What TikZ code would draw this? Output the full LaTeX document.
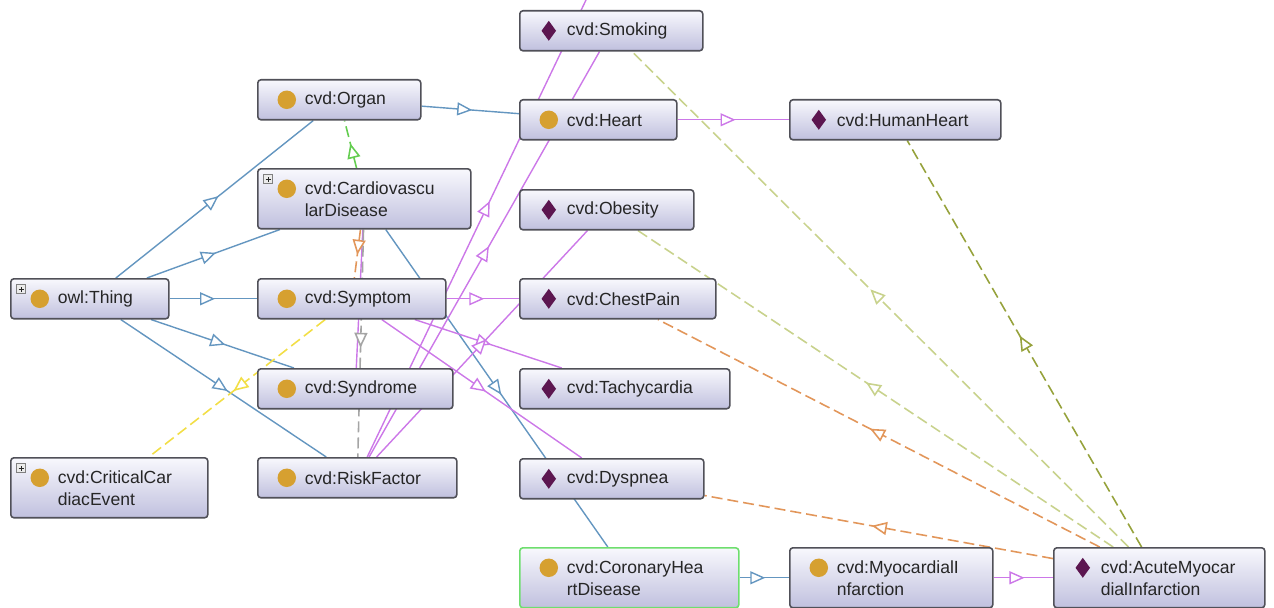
\documentclass[tikz,border=0pt]{standalone}
\usepackage{fontspec}
\setmainfont{Liberation Sans}
\usetikzlibrary{arrows.meta,decorations.markings,backgrounds}

\definecolor{boxline}{RGB}{80,80,88}
\definecolor{boxtop}{RGB}{248,248,253}
\definecolor{boxbot}{RGB}{192,192,222}
\definecolor{gold}{RGB}{214,160,48}
\definecolor{plum}{RGB}{92,22,80}
\definecolor{isablue}{RGB}{100,150,192}
\definecolor{typeviolet}{RGB}{204,120,232}
\definecolor{propgreen}{RGB}{100,205,80}
\definecolor{propyellow}{RGB}{242,222,70}
\definecolor{proporange}{RGB}{226,150,90}
\definecolor{propgrey}{RGB}{165,165,165}
\definecolor{propolive}{RGB}{200,210,140}
\definecolor{propdark}{RGB}{150,162,60}
\definecolor{chdgreen}{RGB}{110,222,110}

\newcommand{\clsicon}{\fill[gold] ([xshift=0.58cm,yshift=-0.4cm]path picture bounding box.north west) circle (0.185cm);}
\newcommand{\indicon}{\fill[plum, sharp corners] ([xshift=0.58cm,yshift=-0.4cm]path picture bounding box.north west) +(0,0.2cm) -- +(0.145cm,0) -- +(0,-0.2cm) -- +(-0.145cm,0) -- cycle;}
\newcommand{\plusicon}{%
  \path ([xshift=0.21cm,yshift=-0.21cm]path picture bounding box.north west) coordinate (pc);
  \draw[gray,fill=black!8,line width=0.4pt,sharp corners] (pc) +(-0.09cm,-0.09cm) rectangle +(0.09cm,0.09cm);
  \draw[black!85,line width=0.6pt,sharp corners] (pc) +(-0.055cm,0) -- +(0.055cm,0) (pc) +(0,-0.055cm) -- +(0,0.055cm);}

\tikzset{
  box/.style={rectangle, rounded corners=1.8pt, draw=boxline, line width=0.9pt,
    top color=boxtop, bottom color=boxbot, anchor=north west, align=left,
    inner sep=0pt, minimum height=0.8cm, font=\fontsize{10}{12.5}\selectfont, text=black!85},
  wd/.code={\pgfmathsetmacro\boxw{#1*0.02}\pgfmathsetmacro\txtw{(#1-94)*0.02}%
    \pgfkeysalso{/tikz/minimum width/.expanded=\boxw cm,/tikz/text width/.expanded=\txtw cm}},
  tall/.style={minimum height=1.2cm},
  cls/.style={box, path picture={\clsicon}},
  clsplus/.style={box, path picture={\clsicon\plusicon}},
  ind/.style={box, path picture={\indicon}},
  tri/.style={postaction={decorate, decoration={markings,
    mark=at position #1 with {\arrow{Triangle[length=0.3cm, width=0.26cm, fill=white]}}}}},
  isa/.style={draw=isablue, line width=0.8pt, tri=0.52},
  type/.style={draw=typeviolet, line width=0.8pt, tri=#1},
  type/.default=0.52,
  prop/.style={draw=#1, line width=0.9pt, dash pattern=on 0.22cm off 0.1cm, tri=0.52},
}

\begin{document}
\begin{tikzpicture}[x=0.02cm, y=-0.02cm]

      \useasboundingbox (0,0) rectangle (1274,608);

      \begin{scope}
        \node[clsplus, wd=158] (thing)             at (10,278)   {owl:Thing};
        \node[clsplus, wd=197, tall] (cce)         at (10,457)   {cvd:CriticalCar\\diacEvent};
        \node[cls, wd=163] (organ)                 at (257,79)   {cvd:Organ};
        \node[clsplus, wd=213, tall] (cvd)         at (257,168)  {cvd:Cardiovascu\\larDisease};
        \node[cls, wd=188] (symptom)               at (257,278)  {cvd:Symptom};
        \node[cls, wd=195] (syndrome)              at (257,368)  {cvd:Syndrome};
        \node[cls, wd=199] (riskfactor)            at (257,457)  {cvd:RiskFactor};
        \node[ind, wd=183] (smoking)               at (519,10)   {cvd:Smoking};
        \node[cls, wd=157] (heart)                 at (519,99)   {cvd:Heart};
        \node[ind, wd=211] (humanheart)            at (789,99)   {cvd:HumanHeart};
        \node[ind, wd=174] (obesity)               at (519,189)  {cvd:Obesity};
        \node[ind, wd=196] (chestpain)             at (519,278)  {cvd:ChestPain};
        \node[ind, wd=210] (tachycardia)           at (519,368)  {cvd:Tachycardia};
        \node[ind, wd=184] (dyspnea)               at (519,458)  {cvd:Dyspnea};
        \node[cls, wd=219, tall, draw=chdgreen] (chd) at (519,547) {cvd:CoronaryHea\\rtDisease};
        \node[cls, wd=203, tall] (mi)              at (789,547)  {cvd:MyocardialI\\nfarction};
        \node[ind, wd=211, tall] (ami)             at (1053,547) {cvd:AcuteMyocar\\dialInfarction};
        \coordinate (offtop) at (586,0);
      \end{scope}

      \begin{pgfonlayer}{background}
        \begin{scope}
          \path (thing) edge[isa] (organ);
          \path (thing) edge[isa] (cvd);
          \path (thing) edge[isa] (symptom);
          \path (thing) edge[isa] (syndrome);
          \path (thing) edge[isa] (riskfactor);
          \path (organ) edge[isa] (heart);
          \path (cvd)   edge[isa] (chd);
          \path (chd)   edge[isa] (mi);
        \end{scope}

        \begin{scope}
          \path (heart)      edge[type] (humanheart);
          \path (mi)         edge[type] (ami);
          \path (symptom)    edge[type] (chestpain);
          \path (symptom)    edge[type] (tachycardia);
          \path (symptom)    edge[type] (dyspnea);
          \path (riskfactor) edge[type] (smoking);
          \path (riskfactor) edge[type] (obesity);
          \path (riskfactor) edge[type=0.56] (offtop);
          \path (cvd)        edge[type] (syndrome);
        \end{scope}

        \begin{scope}
          \path (cvd)     edge[prop=propgreen] (organ);
          \path (cvd)     edge[prop=proporange] (symptom);
          \path (cvd)     edge[prop=propgrey] (riskfactor);
          \path (symptom) edge[prop=propyellow] (cce);
          \path (ami)     edge[prop=propolive] (smoking);
          \path (ami)     edge[prop=propolive] (obesity);
          \path (ami)     edge[prop=propdark] (humanheart);
          \path (ami)     edge[prop=proporange] (chestpain);
          \path (ami)     edge[prop=proporange] (dyspnea);
        \end{scope}
      \end{pgfonlayer}

    \end{tikzpicture}
\end{document}
